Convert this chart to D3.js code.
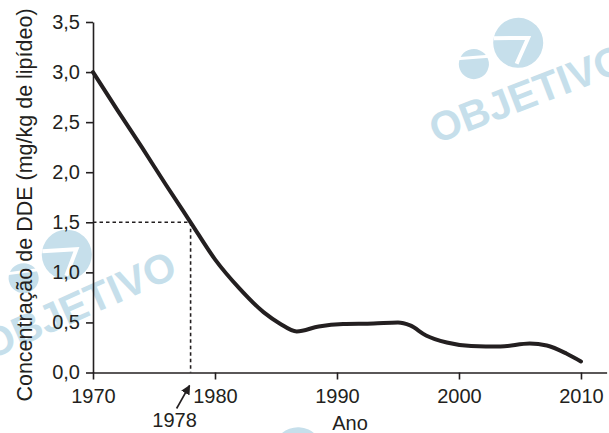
<!DOCTYPE html>
<html>
<head>
<meta charset="utf-8">
<script src="https://cdnjs.cloudflare.com/ajax/libs/d3/7.8.5/d3.min.js"></script>
<style>
  body { margin: 0; background: #fff; }
  svg text { font-family: "Liberation Sans", Arial, sans-serif; fill: #231f20; }
</style>
</head>
<body>
<div id="chart"></div>
<script>
// values
const years = [1970, 1972, 1974, 1976, 1978, 1980, 1982, 1984, 1985.3, 1986.7, 1988.5, 1990.5, 1993, 1995, 1996, 1997.3, 1999, 2001, 2003.4, 2005.8, 2007.2, 2008.8, 2010];
const values = [3.0, 2.62, 2.25, 1.87, 1.5, 1.13, 0.84, 0.6, 0.49, 0.41, 0.46, 0.485, 0.49, 0.5, 0.47, 0.37, 0.3, 0.265, 0.26, 0.29, 0.27, 0.19, 0.11];
const xTicks = [1970, 1980, 1990, 2000, 2010];
const yTicks = [0, 0.5, 1.0, 1.5, 2.0, 2.5, 3.0, 3.5];
const markYear = 1978, markValue = 1.5;

const width = 609, height = 433;
const data = years.map((d, i) => ({ year: d, value: values[i] }));

const svg = d3.select("#chart")
    .append("svg")
    .attr("width", width)
    .attr("height", height);

// watermarks
const wmColor = "#c6dfeb";
function watermark(cx, cy, angle) {
    let g = svg.append("g")
        .attr("transform", `translate(${cx},${cy}) rotate(${angle})`);
    g.append("circle").attr("cx", 113).attr("cy", -65).attr("r", 25).attr("fill", wmColor);
    g.append("circle").attr("cx", 64).attr("cy", -61).attr("r", 15).attr("fill", wmColor);
    // white chevron inside the big circle
    g.append("path")
        .attr("d", "M92,-78 L124,-66 L104,-46")
        .attr("fill", "none")
        .attr("stroke", "#fff")
        .attr("stroke-width", 4);
    g.append("path")
        .attr("d", "M50,-72 L84,-62")
        .attr("fill", "none")
        .attr("stroke", "#fff")
        .attr("stroke-width", 3);
    g.append("text")
        .attr("x", 0).attr("y", 0)
        .style("font-size", "41px")
        .style("font-weight", "bold")
        .style("fill", wmColor)
        .text("OBJETIVO");
}
watermark(436, 144, -21);
watermark(-10, 360, -24);
watermark(214, 552, -20);

const x = d3.scaleLinear().domain([1970, 2012.1]).range([93, 606.6]);
const y = d3.scaleLinear().domain([0, 3.5]).range([372.5, 22]);

const fmt = d => d3.format(".1f")(d).replace(".", ",");

let yAxis = svg.append("g")
    .attr("transform", `translate(${x(1970)},0)`)
    .call(d3.axisLeft(y).tickValues(yTicks).tickFormat(fmt).tickSize(7).tickSizeOuter(0).tickPadding(6));

let xAxis = svg.append("g")
    .attr("transform", `translate(0,${y(0)})`)
    .call(d3.axisBottom(x).tickValues(xTicks).tickFormat(d3.format("d")).tickSize(7).tickSizeOuter(0).tickPadding(9));

svg.selectAll(".domain, .tick line")
    .attr("stroke", "#231f20")
    .attr("stroke-width", 1.6);
svg.selectAll(".tick text")
    .style("font-size", "20px")
    .style("fill", "#231f20");

// dotted guides
svg.append("path")
    .attr("d", `M${x(1970)},${y(markValue)} H${x(markYear)} V${y(0)}`)
    .attr("fill", "none")
    .attr("stroke", "#231f20")
    .attr("stroke-width", 1.6)
    .attr("stroke-dasharray", "3.5,3");

// curve
let line = d3.line()
    .x(d => x(d.year))
    .y(d => y(d.value))
    .curve(d3.curveMonotoneX);

svg.append("path")
    .datum(data)
    .attr("d", line)
    .attr("fill", "none")
    .attr("stroke", "#231f20")
    .attr("stroke-width", 4)
    .attr("stroke-linecap", "round");

// arrow for 1978
svg.append("defs").append("marker")
    .attr("id", "head")
    .attr("viewBox", "0 0 10 10")
    .attr("refX", 9).attr("refY", 5)
    .attr("markerWidth", 6).attr("markerHeight", 6)
    .attr("orient", "auto")
    .append("path")
    .attr("d", "M0,0 L10,5 L0,10 Z")
    .attr("fill", "#231f20");

svg.append("line")
    .attr("x1", x(markYear) - 14).attr("y1", y(0) + 36)
    .attr("x2", x(markYear) - 1).attr("y2", y(0) + 13)
    .attr("stroke", "#231f20")
    .attr("stroke-width", 1.6)
    .attr("marker-end", "url(#head)");

svg.append("text")
    .attr("x", x(markYear) - 16)
    .attr("y", 427)
    .style("text-anchor", "middle")
    .style("font-size", "20px")
    .text(String(markYear));

svg.append("text")
    .attr("x", 350)
    .attr("y", 430)
    .style("text-anchor", "middle")
    .style("font-size", "20px")
    .text("Ano");

svg.append("text")
    .attr("transform", `translate(32, 205) rotate(-90)`)
    .style("text-anchor", "middle")
    .style("font-size", "21.5px")
    .text("Concentração de DDE (mg/kg de lipídeo)");
</script>
</body>
</html>
